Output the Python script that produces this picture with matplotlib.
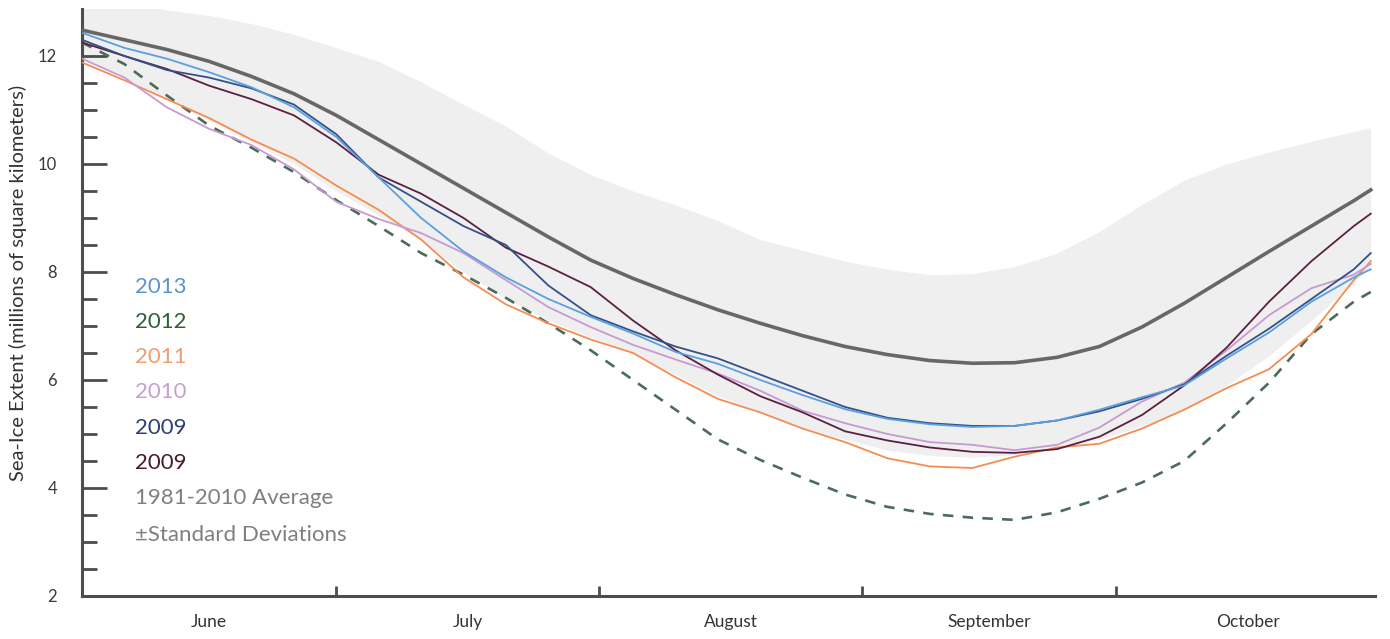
import matplotlib
matplotlib.use("Agg")
import matplotlib.pyplot as plt

plt.rcParams['font.family'] = ['Lato', 'DejaVu Sans']

# days since June 1
days = [0, 5, 10, 15, 20, 25, 30, 35, 40, 45, 50, 55, 60, 65, 70, 75,
        80, 85, 90, 95, 100, 105, 110, 115, 120, 125, 130, 135, 140, 145, 150, 152]

avg = [12.48, 12.30, 12.12, 11.90, 11.62, 11.30, 10.90, 10.45, 10.00, 9.55, 9.10, 8.65,
       8.22, 7.88, 7.58, 7.30, 7.05, 6.82, 6.62, 6.47, 6.36, 6.31, 6.32, 6.42,
       6.62, 6.98, 7.42, 7.90, 8.38, 8.85, 9.32, 9.52]
std_hi = [13.30, 13.05, 12.85, 12.75, 12.60, 12.40, 12.15, 11.90, 11.52, 11.10, 10.70, 10.20,
          9.80, 9.50, 9.24, 8.95, 8.60, 8.40, 8.20, 8.05, 7.95, 7.97, 8.10, 8.35,
          8.75, 9.25, 9.70, 10.00, 10.22, 10.42, 10.60, 10.67]
std_lo = [11.95, 11.60, 11.20, 10.80, 10.40, 10.00, 9.50, 9.05, 8.60, 8.00, 7.50, 7.10,
          6.80, 6.50, 6.10, 5.70, 5.42, 5.12, 4.90, 4.70, 4.60, 4.57, 4.62, 4.75,
          4.90, 5.15, 5.45, 5.90, 6.45, 7.10, 7.80, 8.10]

y2013 = [12.43, 12.15, 11.95, 11.70, 11.42, 11.05, 10.50, 9.75, 9.00, 8.38, 7.90, 7.50,
         7.17, 6.86, 6.52, 6.30, 6.00, 5.72, 5.46, 5.28, 5.18, 5.13, 5.15, 5.25,
         5.45, 5.68, 5.90, 6.40, 6.88, 7.45, 7.90, 8.05]
y2012 = [12.25, 11.85, 11.27, 10.71, 10.30, 9.85, 9.33, 8.85, 8.35, 7.95, 7.52, 7.05,
         6.55, 6.00, 5.45, 4.90, 4.52, 4.19, 3.88, 3.65, 3.52, 3.45, 3.41, 3.55,
         3.80, 4.10, 4.50, 5.20, 5.95, 6.85, 7.45, 7.63]
y2011 = [11.88, 11.55, 11.20, 10.85, 10.45, 10.10, 9.60, 9.15, 8.60, 7.90, 7.40, 7.05,
         6.75, 6.50, 6.05, 5.65, 5.40, 5.10, 4.85, 4.55, 4.40, 4.37, 4.58, 4.75,
         4.82, 5.10, 5.45, 5.85, 6.20, 6.85, 7.85, 8.20]
y2010 = [11.95, 11.60, 11.05, 10.65, 10.35, 9.90, 9.30, 8.98, 8.72, 8.35, 7.85, 7.35,
         6.98, 6.65, 6.38, 6.12, 5.80, 5.43, 5.20, 5.00, 4.85, 4.80, 4.70, 4.80,
         5.12, 5.60, 5.95, 6.55, 7.20, 7.70, 7.95, 8.15]
y2009a = [12.30, 12.00, 11.74, 11.60, 11.40, 11.10, 10.55, 9.75, 9.30, 8.85, 8.50, 7.75,
          7.20, 6.90, 6.62, 6.40, 6.10, 5.80, 5.50, 5.30, 5.20, 5.15, 5.15, 5.25,
          5.42, 5.65, 5.92, 6.45, 6.95, 7.50, 8.05, 8.35]
y2009b = [12.25, 12.00, 11.76, 11.45, 11.20, 10.90, 10.40, 9.80, 9.45, 9.00, 8.45, 8.10,
          7.72, 7.10, 6.55, 6.10, 5.70, 5.40, 5.05, 4.88, 4.75, 4.67, 4.65, 4.72,
          4.95, 5.35, 5.90, 6.60, 7.45, 8.20, 8.85, 9.08]

months = ['June', 'July', 'August', 'September', 'October']
month_starts = [0, 30, 61, 92, 122, 153]

legend_labels = ['2013', '2012', '2011', '2010', '2009', '2009',
                 '1981-2010 Average', '\u00b1Standard Deviations']
legend_colors = ['#5b93cf', '#2f5f36', '#f29b72', '#c6a0d2', '#2b3f73', '#4a1a2e',
                 '#7f7f7f', '#7f7f7f']

W, H = 1390, 639
fig = plt.figure(figsize=(W / 100, H / 100), dpi=100)
ax = fig.add_axes([82 / W, 1 - 596 / H, (1375 - 82) / W, (596 - 9) / H])

ax.fill_between(days, std_lo, std_hi, color='#efefef', lw=0, zorder=1)
ax.plot(days, avg, color='#676767', lw=2.6, zorder=4)
ax.plot(days, y2012, color='#4d6b58', lw=1.9, dashes=(4, 3.5), zorder=3)
ax.plot(days, y2011, color='#f58c52', lw=1.3, zorder=3)
ax.plot(days, y2010, color='#c79ad2', lw=1.3, zorder=3)
ax.plot(days, y2009b, color='#5c1f42', lw=1.3, zorder=3)
ax.plot(days, y2009a, color='#34508a', lw=1.3, zorder=3)
ax.plot(days, y2013, color='#5aa0dd', lw=1.3, zorder=3)

ax.set_xlim(0, 152.5)
ax.set_ylim(2, 12.87)

for s in ['top', 'right']:
    ax.spines[s].set_visible(False)
for s in ['left', 'bottom']:
    ax.spines[s].set_color('#4d4d4d')
    ax.spines[s].set_linewidth(2.2)

ax.set_yticks([2, 4, 6, 8, 10, 12])
ax.set_yticks([y / 2 for y in range(5, 25) if y % 4 != 0], minor=True)
ax.tick_params(axis='y', which='major', direction='in', length=18, width=2,
               color='#4d4d4d', pad=18, labelsize=12, labelcolor='#3a3a3a')
ax.tick_params(axis='y', which='minor', direction='in', length=11, width=2,
               color='#4d4d4d')

ax.set_xticks(month_starts[1:-1])
ax.set_xticklabels([])
ax.tick_params(axis='x', which='major', direction='in', length=7, width=2,
               color='#4d4d4d')
for i, m in enumerate(months):
    mid = (month_starts[i] + month_starts[i + 1]) / 2
    ax.text(mid, -0.045, m, transform=ax.get_xaxis_transform(),
            ha='center', va='center', fontsize=12.5, color='#333333')

fig.text(18 / W, 1 - 283 / H, 'Sea-Ice Extent (millions of square kilometers)',
         rotation=90, ha='center', va='center', fontsize=14.5, color='#333333')

legend_y = [287, 322, 357, 392, 428, 463, 498, 535]
for lab, col, yy in zip(legend_labels, legend_colors, legend_y):
    fig.text(135 / W, 1 - yy / H, lab, ha='left', va='center',
             fontsize=16, color=col)

fig.savefig('out.png', dpi=100)
